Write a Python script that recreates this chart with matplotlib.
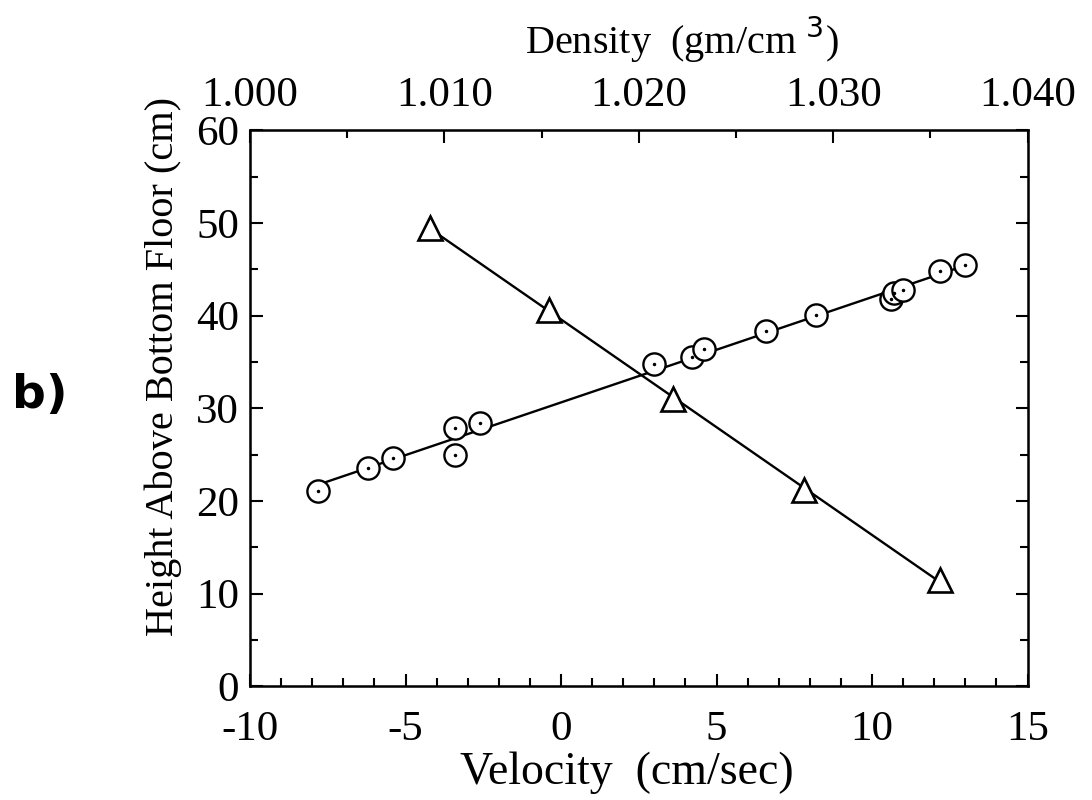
import numpy as np
import matplotlib
matplotlib.use("Agg")
import matplotlib.pyplot as plt
from matplotlib.ticker import MultipleLocator

plt.rcParams['font.family'] = ['Liberation Serif', 'DejaVu Serif']
plt.rcParams['mathtext.fontset'] = 'custom'
plt.rcParams['mathtext.rm'] = 'Liberation Serif'
plt.rcParams['mathtext.sf'] = 'DejaVu Sans'
plt.rcParams['axes.unicode_minus'] = False

# circles: velocity (cm/sec) vs height (cm)
circ_v = [-7.8, -6.2, -5.4, -3.4, -3.4, -2.6, 3.0, 4.2, 4.6, 6.6, 8.2,
          10.6, 10.7, 11.0, 12.2, 13.0]
circ_h = [21.1, 23.6, 24.6, 27.9, 25.0, 28.4, 34.8, 35.6, 36.4, 38.4, 40.1,
          41.8, 42.4, 42.8, 44.8, 45.5]

# triangles: plotted against the same velocity axis
tri_v = [-4.2, -0.4, 3.6, 7.8, 12.2]
tri_h = [49.5, 40.6, 31.0, 21.2, 11.5]

density_ticks = [1.000, 1.010, 1.020, 1.030, 1.040]

fig = plt.figure(figsize=(10.92, 8.0), dpi=100)
ax = fig.add_axes([0.229, 0.142, 0.712, 0.695])

# fitted straight lines through each set
for xs, ys in [(circ_v, circ_h), (tri_v, tri_h)]:
    p = np.polyfit(xs, ys, 1)
    xx = np.array([min(xs), max(xs)])
    ax.plot(xx, np.polyval(p, xx), color='black', lw=1.7, zorder=2)

ax.plot(circ_v, circ_h, 'o', ms=16, mfc='white', mec='black', mew=1.7, zorder=3)
ax.plot(circ_v, circ_h, '.', ms=3, color='black', zorder=4)
ax.plot(tri_v, tri_h, '^', ms=17, mfc='white', mec='black', mew=1.9, zorder=3)

ax.set_xlim(-10, 15)
ax.set_ylim(0, 60)
ax.xaxis.set_major_locator(MultipleLocator(5))
ax.xaxis.set_minor_locator(MultipleLocator(1))
ax.yaxis.set_major_locator(MultipleLocator(10))
ax.yaxis.set_minor_locator(MultipleLocator(5))
ax.tick_params(which='both', direction='in', top=False, right=True, width=1.5)
ax.tick_params(which='major', length=9)
ax.tick_params(which='minor', length=6)
ax.tick_params(axis='x', labelsize=31, pad=17)
ax.tick_params(axis='y', labelsize=31, pad=8)
for s in ax.spines.values():
    s.set_linewidth(1.8)

ax.set_xlabel('Velocity  (cm/sec)', fontsize=33)
ax.xaxis.set_label_coords(0.485, -0.117)
ax.set_ylabel('Height Above Bottom Floor (cm)', fontsize=29)
ax.yaxis.set_label_coords(-0.087, 0.575)

# density scale along the top
ax2 = ax.twiny()
ax2.set_xlim(1.000, 1.040)
ax2.set_xticks(density_ticks)
ax2.set_xticklabels(['%.3f' % d for d in density_ticks])
ax2.xaxis.set_minor_locator(MultipleLocator(0.005))
ax2.tick_params(which='both', direction='in', width=1.5, labelsize=31, pad=11)
ax2.tick_params(which='major', length=9)
ax2.tick_params(which='minor', length=6)
ax2.set_xlabel(r'Density  (gm/cm $^{\mathsf{3}}$)', fontsize=29)
ax2.xaxis.set_label_coords(0.555, 1.137)

fig.text(0.011, 0.505, 'b)', fontsize=34, fontweight='bold', family='DejaVu Sans',
         va='center', ha='left')

fig.savefig('out.png', dpi=100)
